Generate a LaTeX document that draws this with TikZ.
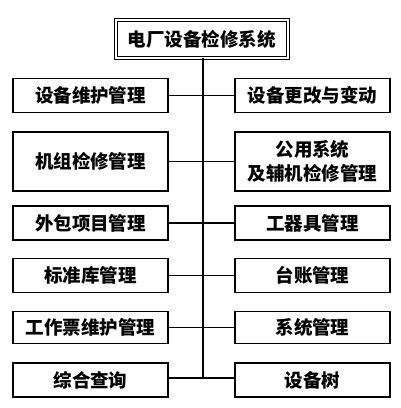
\documentclass[tikz,border=0pt]{standalone}
\usepackage{fontspec}
\setmainfont{Noto Sans CJK SC}
\usepackage{tikz}
\usetikzlibrary{positioning}
\tikzset{
	mgmt/.style={draw=black, line width=1.1pt, minimum width=155pt, minimum height=34pt,
		inner sep=0pt, align=center, font=\fontsize{18.5}{24}\selectfont\bfseries},
	title/.style={draw=black, double, double distance=1.8pt, line width=0.9pt,
		minimum width=172pt, minimum height=38pt, inner sep=0pt,
		font=\fontsize{18.5}{24}\selectfont\bfseries},
	line/.style={draw=black, line width=1.2pt},
}

\begin{document}
\begin{tikzpicture}[x=1pt, y=1pt]
	\useasboundingbox (0,0) rectangle (400,408);
	\node[title] (sys) at (202,369) {电厂设备检修系统};
	% left column
	\node[mgmt] (l1) at (90.5,312.5) {设备维护管理};
	\node[mgmt, minimum height=59pt] (l2) at (90.5,246.5) {机组检修管理};
	\node[mgmt] (l3) at (90.5,185) {外包项目管理};
	\node[mgmt] (l4) at (90.5,132.5) {标准库管理};
	\node[mgmt, minimum height=32pt] (l5) at (90.5,80.5) {工作票维护管理};
	\node[mgmt] (l6) at (90.5,28) {综合查询};
	% right column
	\node[mgmt] (r1) at (312.5,312.5) {设备更改与变动};
	\node[mgmt, minimum height=59pt] (r2) at (312.5,246.5) {公用系统\\及辅机检修管理};
	\node[mgmt] (r3) at (312.5,185) {工器具管理};
	\node[mgmt] (r4) at (312.5,132.5) {台账管理};
	\node[mgmt, minimum height=32pt] (r5) at (312.5,80.5) {系统管理};
	\node[mgmt] (r6) at (312.5,28) {设备树};
	% spine
	\coordinate (end) at (203,30);
	\draw[line] (sys.south -| end) -- (end);
	\foreach \i in {1,...,5}
		\draw[line] (l\i) -- (r\i);
	\draw[line] (l6.east |- end) -- (r6.west |- end);
\end{tikzpicture}
\end{document}
